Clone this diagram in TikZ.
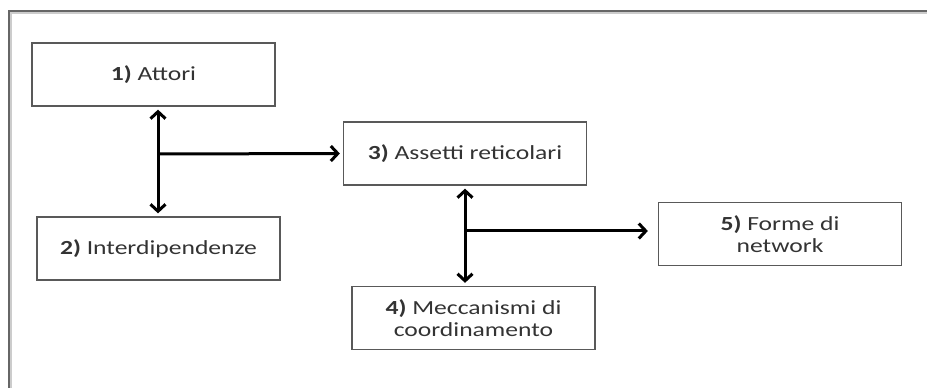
\documentclass[tikz,border=0pt]{standalone}
\usepackage{fontspec}
\setmainfont{Carlito}[FakeStretch=1.28]
\usetikzlibrary{arrows.meta,positioning,shadows}

\tikzset{
    tappa/.style={draw=black!65,line width=1.3pt,minimum width=243pt,minimum height=63pt,
        align=center,text=black!80,font=\fontsize{20}{22}\selectfont},
    punta/.tip={Straight Barb[length=7pt,width=15pt,line width=3pt]},
    freccia/.style={line width=3pt,-punta,shorten >=3pt},
    doppia/.style={freccia,punta-punta,shorten <=3pt},
    cornice/.style={draw=black!60,line width=1.6pt}
}

\begin{document}
\begin{tikzpicture}[x=1pt,y=1pt]
            \useasboundingbox (0,0) rectangle (927,388);
            \draw[black!20,line width=2pt] (927,375) -- (11,375) -- (11,0);
            \draw[cornice] (927,377) -- (9,377) -- (9,0);
            \node[tappa] (attori) at (153.5,313.5) {\textbf{1)} Attori};
            \node[tappa] (interd) at (158.5,139.5) {\textbf{2)} Interdipendenze};
            \node[tappa] (assetti) at (465,234.5) {\textbf{3)} Assetti reticolari};
            \node[tappa] (meccan) at (473.5,70) {\textbf{4)} Meccanismi di\\coordinamento};
            \node[tappa] (forme) at (780,154) {\textbf{5)} Forme di\\network};
            \coordinate (j1) at (158,234);
            \coordinate (j2) at (465,157);
            \draw[doppia] (j1 |- attori.south) -- (j1 |- interd.north);
            \draw[freccia] (j1) -- (assetti.west);
            \draw[doppia] (j2 |- assetti.south) -- (j2 |- meccan.north);
            \draw[freccia,shorten >=10pt] (j2) -- (j2 -| forme.west);
        \end{tikzpicture}
\end{document}
